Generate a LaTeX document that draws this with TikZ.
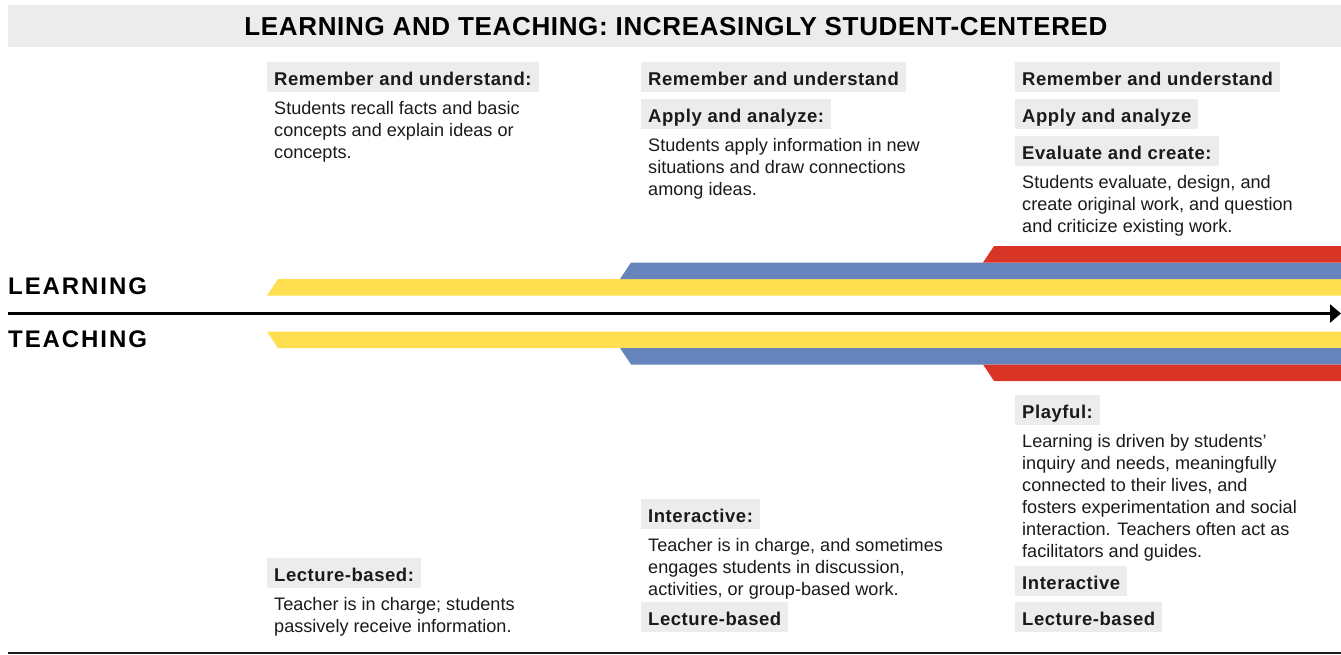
\documentclass[tikz,border=0pt]{standalone}
\usepackage{fontspec}
\setmainfont{Liberation Sans}
\newfontfamily\tagfont[LetterSpace=3]{Liberation Sans}
\newfontfamily\capsfont[LetterSpace=8]{Liberation Sans}
\newfontfamily\titlefont[LetterSpace=2.5]{Liberation Sans}
\usetikzlibrary{arrows.meta}
\definecolor{ink}{HTML}{1A1A1A}
\definecolor{taggray}{HTML}{ECECEC}
\definecolor{bandyellow}{HTML}{FFDE4F}
\definecolor{bandblue}{HTML}{6684BB}
\definecolor{bandred}{HTML}{D93526}
\tikzset{
  tag/.style={fill=taggray, anchor=north west, inner xsep=7pt, inner ysep=0pt,
    text height=23pt, text depth=7pt, text=ink,
    font=\tagfont\bfseries\fontsize{18.5}{22}\selectfont},
  body/.style={anchor=north west, inner sep=0pt, align=left, text=ink,
    font=\fontsize{18.1}{22}\selectfont},
  side/.style={anchor=base west, inner sep=0pt, text=black,
    font=\capsfont\bfseries\fontsize{24}{24}\selectfont},
}
\begin{document}
\begin{tikzpicture}[x=1pt,y=-1pt]
\useasboundingbox (0,0) rectangle (1341,654);
% banner
\fill[taggray] (8,5) rectangle (1341,47);
\node[font=\titlefont\bfseries\fontsize{26}{26}\selectfont, text=black] (title) at (676,26.5)
    {LEARNING AND TEACHING: INCREASINGLY STUDENT-CENTERED};
% bands above and below the axis
\foreach \xl/\k/\c in {267/0/bandyellow,620/1/bandblue,983/2/bandred}{%
    \fill[\c] (\xl,295.5-16.5*\k) -- (\xl+11,279-16.5*\k) -- (1341,279-16.5*\k) -- (1341,295.5-16.5*\k) -- cycle;
    \fill[\c] (\xl,331.5+16.5*\k) -- (\xl+11,348+16.5*\k) -- (1341,348+16.5*\k) -- (1341,331.5+16.5*\k) -- cycle;
}
\coordinate (axisL) at (8,313.5);
\coordinate (axisR) at (1341,313.5);
\draw[line width=2.5pt, -{Triangle[length=11pt,width=18pt]}] (axisL) -- (axisR);
\node[side] (learn) at (8,294) {LEARNING};
\node[side] (teach) at (8,347) {TEACHING};
% learning side
\node[tag] (remA) at (267,62) {Remember and understand:};
\node[body] (bodyA) at (267+7,101) {Students recall facts and basic\\concepts and explain ideas or\\concepts.};
\node[tag] (remB) at (641,62) {Remember and understand};
\node[tag] (appB) at (641,99) {Apply and analyze:};
\node[body] (bodyB) at (641+7,138) {Students apply information in new\\situations and draw connections\\among ideas.};
\node[tag] (remC) at (1015,62) {Remember and understand};
\node[tag] (appC) at (1015,99) {Apply and analyze};
\node[tag] (evaC) at (1015,136) {Evaluate and create:};
\node[body] (bodyC) at (1015+7,175) {Students evaluate, design, and\\create original work, and question\\and criticize existing work.};
% teaching side
\node[tag] (lecA) at (267,558) {Lecture-based:};
\node[body] (tbodyA) at (267+7,597) {Teacher is in charge; students\\passively receive information.};
\node[tag] (intB) at (641,499) {Interactive:};
\node[body] (tbodyB) at (641+7,538) {Teacher is in charge, and sometimes\\engages students in discussion,\\activities, or group-based work.};
\node[tag] (lecB) at (641,602) {Lecture-based};
\node[tag] (playC) at (1015,395) {Playful:};
\node[body] (tbodyC) at (1015+7,434) {Learning is driven by students’\\inquiry and needs, meaningfully\\connected to their lives, and\\fosters experimentation and social\\interaction. Teachers often act as\\facilitators and guides.};
\node[tag] (intC) at (1015,566) {Interactive};
\node[tag] (lecC) at (1015,602) {Lecture-based};
\coordinate (footL) at (8,653);
\coordinate (footR) at (1341,653);
\draw[line width=1.5pt, ink] (footL) -- (footR);
\end{tikzpicture}
\end{document}
